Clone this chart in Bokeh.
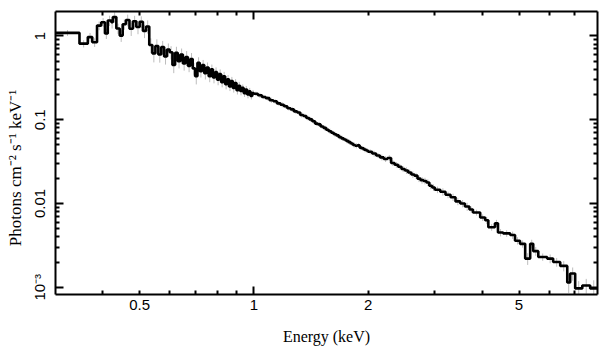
import numpy as np
from bokeh.plotting import figure
from bokeh.models import Range1d, LogAxis, FixedTicker, ColumnDataSource
from bokeh.embed import file_html
from bokeh.resources import INLINE

# ---------------- data (bin lower edges, keV) ----------------
edges_a = [0.300, 0.347, 0.365, 0.375, 0.386, 0.396, 0.405, 0.412, 0.421, 0.425,
           0.434, 0.443, 0.451]
edges_b = [0.46, 0.47, 0.48, 0.49, 0.50, 0.51, 0.52, 0.53, 0.54, 0.55,
           0.56, 0.57, 0.58, 0.59, 0.60, 0.61, 0.62, 0.63, 0.64, 0.65,
           0.66, 0.67, 0.68, 0.69, 0.70, 0.71, 0.72, 0.73, 0.74, 0.75,
           0.76, 0.77, 0.78, 0.79, 0.80, 0.81, 0.82, 0.83, 0.84, 0.85,
           0.86, 0.87, 0.88, 0.89, 0.90, 0.91, 0.92, 0.93, 0.94, 0.95,
           0.96, 0.97, 0.98, 0.99]
edges_c = [1.000, 1.025, 1.050, 1.075, 1.100, 1.125, 1.150, 1.175, 1.200, 1.225,
           1.250, 1.275, 1.300, 1.325, 1.350, 1.375, 1.400, 1.425, 1.450, 1.475,
           1.500, 1.525, 1.550, 1.575, 1.600, 1.625, 1.650, 1.675, 1.700, 1.725,
           1.750, 1.775, 1.800, 1.825, 1.850, 1.875, 1.900, 1.925, 1.950, 1.975]
edges_d = [2.00, 2.05, 2.10, 2.15, 2.20, 2.25, 2.30, 2.35, 2.40, 2.45,
           2.50, 2.55, 2.60, 2.65, 2.70, 2.75, 2.80, 2.85, 2.90, 2.95]
edges_e = [3.0, 3.1, 3.2, 3.3, 3.4, 3.5, 3.6]
edges_f = [3.70, 3.78, 3.95, 4.07, 4.15, 4.32, 4.40, 4.54, 4.74, 4.88,
           5.03, 5.19, 5.35, 5.45, 5.62, 5.93, 6.15, 6.42, 6.70, 6.82,
           7.03, 7.34, 7.70]
edge_last = 8.04

# ---------------- flux (photons cm^-2 s^-1 keV^-1) ----------------
flux_a = [1.09, 0.81, 0.97, 0.84, 1.33, 1.46, 1.07, 1.53, 1.46, 1.68,
          1.23, 1.01, 1.38]
flux_b = [1.55, 1.22, 1.50, 1.28, 1.48, 1.15, 1.30, 0.78, 0.62, 0.76,
          0.60, 0.74, 0.57, 0.69, 0.64, 0.45, 0.63, 0.50, 0.60, 0.47,
          0.56, 0.44, 0.53, 0.41, 0.33, 0.48, 0.38, 0.45, 0.36, 0.42,
          0.33, 0.40, 0.32, 0.37, 0.30, 0.35, 0.28, 0.33, 0.265, 0.305,
          0.25, 0.29, 0.24, 0.275, 0.225, 0.255, 0.22, 0.24, 0.208, 0.23,
          0.20, 0.218, 0.192, 0.208]
flux_c = [0.204, 0.196, 0.187, 0.181, 0.171, 0.166, 0.157, 0.151, 0.145, 0.137,
          0.133, 0.126, 0.122, 0.114, 0.111, 0.105, 0.101, 0.096, 0.090, 0.088,
          0.083, 0.080, 0.076, 0.073, 0.070, 0.067, 0.065, 0.062, 0.060, 0.058,
          0.056, 0.054, 0.052, 0.050, 0.049, 0.0495, 0.0465, 0.0455, 0.0440, 0.0430]
flux_d = [0.0415, 0.0395, 0.0375, 0.0355, 0.0340, 0.0350, 0.0305, 0.0290, 0.0275, 0.0258,
          0.0248, 0.0235, 0.0222, 0.0215, 0.0198, 0.0190, 0.0186, 0.0178, 0.0163, 0.0155]
flux_e = [0.0146, 0.0138, 0.0127, 0.0119, 0.0106, 0.0100, 0.0092]
flux_f = [0.0085, 0.0078, 0.0068, 0.0063, 0.0052, 0.0058, 0.0045, 0.0044, 0.0042, 0.0036,
          0.0033, 0.0022, 0.0033, 0.0027, 0.0023, 0.0022, 0.0020, 0.0018, 0.00114, 0.00146,
          0.00097, 0.00105, 0.00097]

# ---------------- relative 1-sigma errors ----------------
err_a = [0.08, 0.10, 0.12, 0.12, 0.12, 0.12, 0.14, 0.14, 0.16, 0.14,
         0.14, 0.16, 0.14]
err_b = [0.16, 0.18, 0.16, 0.18, 0.16, 0.18, 0.18, 0.20, 0.22, 0.20,
         0.20, 0.18, 0.20, 0.18, 0.18, 0.20, 0.18, 0.18, 0.18, 0.18,
         0.18, 0.16, 0.18, 0.16, 0.20, 0.16, 0.16, 0.15, 0.16, 0.15,
         0.15, 0.14, 0.15, 0.14, 0.14, 0.14, 0.13, 0.13, 0.13, 0.12,
         0.12, 0.12, 0.12, 0.11, 0.11, 0.11, 0.11, 0.10, 0.10, 0.10,
         0.10, 0.10, 0.09, 0.09]
err_c = [0.06, 0.07, 0.06, 0.06, 0.07, 0.06, 0.06, 0.07, 0.06, 0.06,
         0.07, 0.06, 0.06, 0.07, 0.06, 0.06, 0.07, 0.06, 0.06, 0.07,
         0.06, 0.07, 0.06, 0.07, 0.06, 0.07, 0.06, 0.07, 0.07, 0.06,
         0.07, 0.07, 0.06, 0.07, 0.07, 0.06, 0.07, 0.07, 0.07, 0.07]
err_d = [0.07, 0.08, 0.07, 0.08, 0.08, 0.08, 0.08, 0.08, 0.08, 0.08,
         0.09, 0.08, 0.09, 0.08, 0.09, 0.09, 0.09, 0.09, 0.09, 0.09]
err_e = [0.09, 0.10, 0.09, 0.10, 0.10, 0.10, 0.11]
err_f = [0.08, 0.08, 0.09, 0.10, 0.09, 0.10, 0.10, 0.09, 0.10, 0.10,
         0.10, 0.16, 0.12, 0.12, 0.10, 0.12, 0.12, 0.14, 0.25, 0.18,
         0.22, 0.20, 0.25]

# ---------------- ticks ----------------
x_major = [1.0]
x_minor = [0.4, 0.5, 0.6, 0.7, 0.8, 0.9, 2.0, 3.0, 4.0, 5.0, 6.0, 7.0]
x_labeled = [0.5, 1.0, 2.0, 5.0]
x_label_text = {0.5: "0.5", 1.0: "1", 2.0: "2", 5.0: "5"}
y_major = [0.001, 0.01, 0.1, 1.0]
y_minor = [0.002, 0.003, 0.004, 0.005, 0.006, 0.007, 0.008, 0.009,
           0.02, 0.03, 0.04, 0.05, 0.06, 0.07, 0.08, 0.09,
           0.2, 0.3, 0.4, 0.5, 0.6, 0.7, 0.8, 0.9]
y_label_text = {0.001: "10\u207b\u00b3", 0.01: "0.01", 0.1: "0.1", 1.0: "1"}

# ---------------- assemble ----------------
edges = np.array(edges_a + edges_b + edges_c + edges_d + edges_e + edges_f + [edge_last])
flux = np.array(flux_a + flux_b + flux_c + flux_d + flux_e + flux_f)
rel = np.array(err_a + err_b + err_c + err_d + err_e + err_f)

xc = np.sqrt(edges[:-1] * edges[1:])
err_src = ColumnDataSource(dict(x=xc, y0=flux * (1 - rel), y1=flux * (1 + rel)))

p = figure(width=600, height=349,
           x_axis_type="log", y_axis_type="log",
           x_axis_location=None, y_axis_location=None,
           x_range=Range1d(0.3, 8.05), y_range=Range1d(8.2e-4, 1.96),
           output_backend="svg", toolbar_location=None,
           min_border_left=55, min_border_right=3,
           min_border_top=11, min_border_bottom=55)
p.outline_line_color = None
p.background_fill_color = "white"
p.border_fill_color = "white"
p.xgrid.grid_line_color = None
p.ygrid.grid_line_color = None

p.segment(x0="x", y0="y0", x1="x", y1="y1", source=err_src,
          line_color="#bdbdbd", line_width=1)
p.step(x=edges, y=np.append(flux, flux[-1]), mode="after",
       line_color="black", line_width=2.6)


def tick_axis(ticker, major_in, minor_in, hide_labels):
    ax = LogAxis(ticker=ticker)
    ax.axis_line_color = "black"
    ax.axis_line_width = 2
    ax.major_tick_in = major_in
    ax.major_tick_out = 0
    ax.minor_tick_in = minor_in
    ax.minor_tick_out = 0
    ax.major_tick_line_color = "black"
    ax.major_tick_line_width = 2
    ax.minor_tick_line_color = "black"
    ax.minor_tick_line_width = 2
    if hide_labels:
        ax.major_label_text_font_size = "1px"
        ax.major_label_text_alpha = 0
        ax.major_label_standoff = 0
    return ax


# bottom: ticks only
xb = tick_axis(FixedTicker(ticks=x_major, minor_ticks=x_minor), 8, 4, True)
p.add_layout(xb, "below")

# bottom: labels only
xl = LogAxis(ticker=FixedTicker(ticks=x_labeled, minor_ticks=[]))
xl.axis_line_color = None
xl.major_tick_line_color = None
xl.minor_tick_line_color = None
xl.major_tick_in = 0
xl.major_tick_out = 0
xl.minor_tick_in = 0
xl.minor_tick_out = 0
xl.major_label_overrides = x_label_text
xl.major_label_text_font = "Liberation Sans"
xl.major_label_text_font_size = "15px"
xl.major_label_text_color = "black"
xl.major_label_standoff = 5
xl.axis_label = "Energy (keV)"
xl.axis_label_text_font = "Liberation Serif"
xl.axis_label_text_font_style = "normal"
xl.axis_label_text_font_size = "16px"
xl.axis_label_text_color = "black"
xl.axis_label_standoff = 15
p.add_layout(xl, "below")

# top: ticks only
xt = tick_axis(FixedTicker(ticks=x_major, minor_ticks=x_minor), 8, 4, True)
p.add_layout(xt, "above")

# left
yl = tick_axis(FixedTicker(ticks=y_major, minor_ticks=y_minor), 8, 4, False)
yl.major_label_overrides = y_label_text
yl.major_label_orientation = "vertical"
yl.major_label_text_font = "Liberation Sans"
yl.major_label_text_font_size = "15px"
yl.major_label_text_color = "black"
yl.major_label_standoff = 7
yl.axis_label = "Photons cm\u207b\u00b2 s\u207b\u00b9 keV\u207b\u00b9" + "\u00a0" * 7
yl.axis_label_text_font = "Liberation Serif"
yl.axis_label_text_font_style = "normal"
yl.axis_label_text_font_size = "17px"
yl.axis_label_text_color = "black"
yl.axis_label_standoff = 4
p.add_layout(yl, "left")

# right: ticks only
yr = tick_axis(FixedTicker(ticks=y_major, minor_ticks=y_minor), 8, 4, True)
p.add_layout(yr, "right")

open("out.html", "w").write(file_html(p, INLINE))
